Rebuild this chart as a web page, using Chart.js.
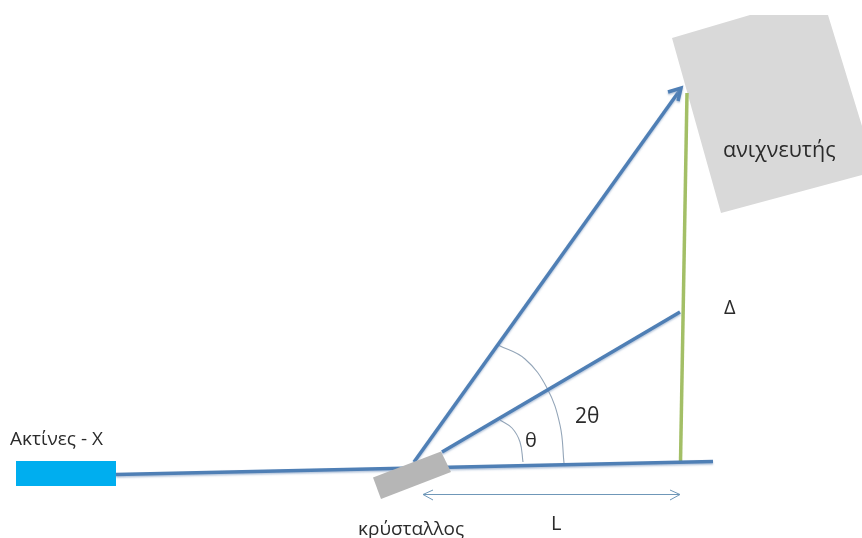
<!DOCTYPE html>
<html>
<head>
<meta charset="utf-8">
<script src="https://cdn.jsdelivr.net/npm/chart.js@4"></script>
<style>
  html, body { margin: 0; padding: 0; background: #fff; overflow: hidden; }
  canvas { display: block; filter: blur(0.4px); }
</style>
</head>
<body>
<canvas id="diagrama" width="862" height="538"></canvas>
<script>
// shapes (x right, y down, in picture pixels)
const sourceX = [16, 116, 116, 16];
const sourceY = [461, 461, 486, 486];
const crystalX = [373, 441, 451, 381];
const crystalY = [477.5, 451.5, 472, 499];
const detectorX = [672, 750, 828, 862, 862, 721];
const detectorY = [38, 15, 15, 126, 175, 213];

// rays
const beamX = [116, 713];
const beamY = [474.5, 461.5];
const reflectedX = [414, 680];
const reflectedY = [462, 90];
const reflectedHeadX = [668, 681, 678];
const reflectedHeadY = [92, 88, 101];
const middleX = [442, 680];
const middleY = [452, 312];
const deltaX = [680.5, 687];
const deltaY = [462, 93];

// angle arcs
const arcThetaX = [500, 512, 520, 523];
const arcThetaY = [420, 428, 442, 462];
const arc2ThetaX = [498, 525, 547, 560, 564];
const arc2ThetaY = [345, 359, 388, 425, 463];

// L dimension arrow
const lengthX = [423, 680];
const lengthY = [494.5, 494.5];
const lengthHeadLeftX = [433, 423, 433];
const lengthHeadLeftY = [490, 494.5, 500];
const lengthHeadRightX = [670, 680, 670];
const lengthHeadRightY = [490, 494.5, 500];

// labels
const labelTexts = ['Ακτίνες - X', 'κρύσταλλος', 'L', 'θ', '2θ', 'Δ', 'ανιχνευτής'];
const labelX = [10, 358, 551, 525, 575, 724, 723];
const labelY = [445, 535, 530, 447, 422.5, 314, 157];
const labelSizes = [19, 19, 20, 20, 21, 20, 21.5];

function pts(xs, ys) {
  return xs.map((x, i) => ({ x: x, y: ys[i] }));
}

function linha(xs, ys, cor, largura, extra) {
  return Object.assign({
    data: pts(xs, ys),
    borderColor: cor,
    borderWidth: largura,
    pointRadius: 0,
    showLine: true,
    fill: false
  }, extra || {});
}

function forma(xs, ys, cor) {
  return linha(xs, ys, cor, 0, { fill: 'shape', backgroundColor: cor });
}

const azul = '#4f7fb5';
const sombra = { sombra: true };

// soft shadow under the blue rays
const pluginSombra = {
  id: 'sombra',
  beforeDatasetDraw(chart, args) {
    if (chart.data.datasets[args.index].sombra) {
      chart.ctx.save();
      chart.ctx.shadowColor = 'rgba(120,150,190,0.55)';
      chart.ctx.shadowBlur = 2;
      chart.ctx.shadowOffsetY = 1.5;
    }
  },
  afterDatasetDraw(chart, args) {
    if (chart.data.datasets[args.index].sombra) {
      chart.ctx.restore();
    }
  }
};

const pluginTextos = {
  id: 'textos',
  afterDatasetsDraw(chart) {
    const ctx = chart.ctx;
    const sx = chart.scales.x;
    const sy = chart.scales.y;
    ctx.save();
    ctx.fillStyle = '#2b2b2b';
    ctx.textAlign = 'left';
    ctx.textBaseline = 'alphabetic';
    labelTexts.forEach((t, i) => {
      ctx.font = labelSizes[i] + 'px "Open Sans"';
      ctx.fillText(t, sx.getPixelForValue(labelX[i]), sy.getPixelForValue(labelY[i]));
    });
    ctx.restore();
  }
};

const ctx = document.getElementById('diagrama').getContext('2d');

new Chart(ctx, {
  type: 'scatter',
  data: {
    // first dataset ends up on top
    datasets: [
      forma(crystalX, crystalY, '#b6b6b6'),
      linha(reflectedHeadX, reflectedHeadY, azul, 3.5, sombra),
      linha(reflectedX, reflectedY, azul, 3.5, sombra),
      linha(middleX, middleY, azul, 3.5, sombra),
      linha(beamX, beamY, azul, 3.5, sombra),
      linha(deltaX, deltaY, '#a3bf66', 3.5),
      linha(arcThetaX, arcThetaY, '#93a5b8', 1.1, { tension: 0.4 }),
      linha(arc2ThetaX, arc2ThetaY, '#93a5b8', 1.1, { tension: 0.4 }),
      linha(lengthX, lengthY, '#6f97b8', 1),
      linha(lengthHeadLeftX, lengthHeadLeftY, '#6f97b8', 1),
      linha(lengthHeadRightX, lengthHeadRightY, '#6f97b8', 1),
      forma(sourceX, sourceY, '#00aeef'),
      forma(detectorX, detectorY, '#d9d9d9')
    ]
  },
  options: {
    responsive: false,
    animation: false,
    layout: { padding: 0 },
    plugins: {
      legend: { display: false },
      tooltip: { enabled: false }
    },
    scales: {
      x: { type: 'linear', display: false, min: 0, max: 862 },
      y: { type: 'linear', display: false, min: 0, max: 538, reverse: true }
    }
  },
  plugins: [pluginSombra, pluginTextos]
});
</script>
</body>
</html>
